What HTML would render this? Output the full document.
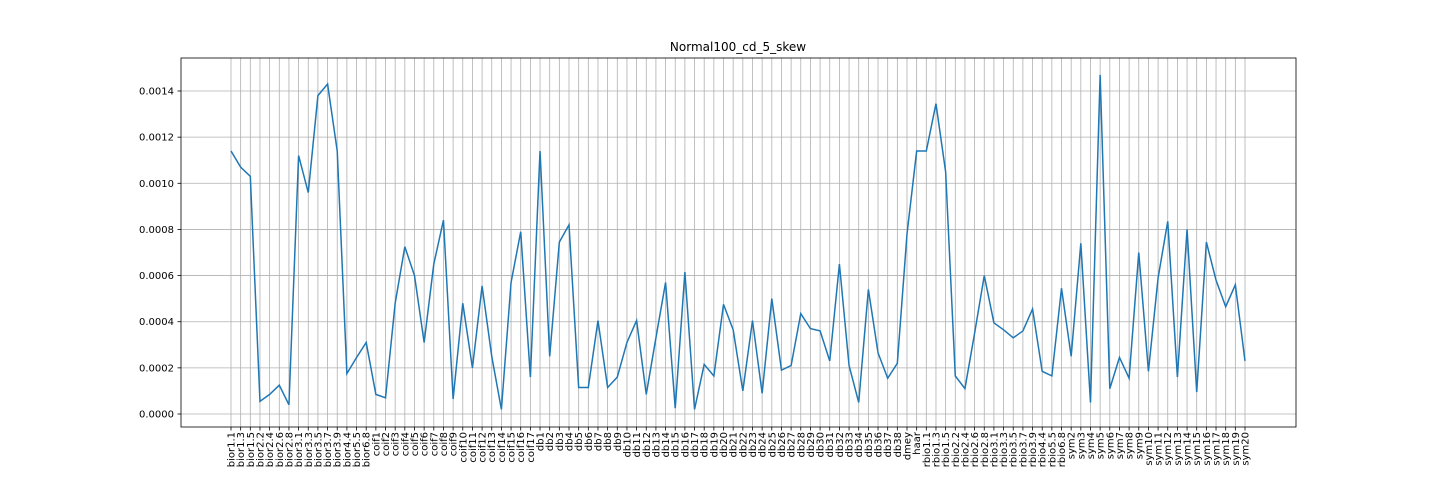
<!DOCTYPE html>
<html><head><meta charset="utf-8"><style>
body{margin:0;background:#fff;}
svg{display:block;font-family:"DejaVu Sans","Liberation Sans",sans-serif;}
</style></head><body>
<svg id="chart" width="1440" height="480" xmlns="http://www.w3.org/2000/svg">
<rect width="1440" height="480" fill="#fff"/>
<text x="738" y="51" text-anchor="middle" font-size="12">Normal100_cd_5_skew</text>
<g id="grid"></g><g id="xt"></g><g id="yt"></g>
<path id="line" fill="none" stroke="#1f77b4" stroke-width="1.5"/>
<rect x="181" y="58" width="1115" height="369" fill="none" stroke="#000" stroke-width="0.8"/>
</svg>
<script>
const categories=["bior1.1","bior1.3","bior1.5","bior2.2","bior2.4","bior2.6","bior2.8","bior3.1","bior3.3","bior3.5","bior3.7","bior3.9","bior4.4","bior5.5","bior6.8","coif1","coif2","coif3","coif4","coif5","coif6","coif7","coif8","coif9","coif10","coif11","coif12","coif13","coif14","coif15","coif16","coif17","db1","db2","db3","db4","db5","db6","db7","db8","db9","db10","db11","db12","db13","db14","db15","db16","db17","db18","db19","db20","db21","db22","db23","db24","db25","db26","db27","db28","db29","db30","db31","db32","db33","db34","db35","db36","db37","db38","dmey","haar","rbio1.1","rbio1.3","rbio1.5","rbio2.2","rbio2.4","rbio2.6","rbio2.8","rbio3.1","rbio3.3","rbio3.5","rbio3.7","rbio3.9","rbio4.4","rbio5.5","rbio6.8","sym2","sym3","sym4","sym5","sym6","sym7","sym8","sym9","sym10","sym11","sym12","sym13","sym14","sym15","sym16","sym17","sym18","sym19","sym20"];
const values=[0.00114,0.00107,0.00103,0.000055,0.000085,0.000125,0.00004,0.00112,0.00096,0.00138,0.00143,0.00114,0.000175,0.000245,0.00031,0.000085,0.00007,0.00048,0.000725,0.0006,0.00031,0.00065,0.00084,0.000065,0.00048,0.0002,0.000555,0.00025,0.00002,0.00057,0.00079,0.00016,0.00114,0.00025,0.000745,0.00082,0.000115,0.000115,0.000405,0.000115,0.00016,0.00031,0.000405,0.000085,0.00033,0.00057,0.000025,0.000615,0.00002,0.000215,0.000165,0.000475,0.000365,0.0001,0.000405,0.00009,0.0005,0.00019,0.00021,0.000435,0.00037,0.00036,0.00023,0.00065,0.00021,0.00005,0.00054,0.000265,0.000155,0.00022,0.00078,0.00114,0.00114,0.001345,0.00105,0.000165,0.00011,0.00035,0.0006,0.000395,0.000365,0.00033,0.00036,0.000455,0.000185,0.000165,0.000545,0.00025,0.00074,0.00005,0.00147,0.00011,0.000245,0.000155,0.0007,0.000185,0.00059,0.000835,0.00016,0.0008,0.000095,0.000745,0.00058,0.000465,0.00056,0.00023];
const yTicks=[0,0.0002,0.0004,0.0006,0.0008,0.001,0.0012,0.0014];
const yLabels=["0.0000","0.0002","0.0004","0.0006","0.0008","0.0010","0.0012","0.0014"];
const NS="http://www.w3.org/2000/svg";
const x0=231,x1=1245;
function xs(i){return x0+(x1-x0)*i/(categories.length-1);}
function ys(v){return 414-v/0.0014*(414-91);}
function mk(t,a,p){const e=document.createElementNS(NS,t);for(const k in a)e.setAttribute(k,a[k]);p.appendChild(e);return e;}
const grid=document.getElementById('grid'),xt=document.getElementById('xt'),yt=document.getElementById('yt');
categories.forEach((c,i)=>{
  const x=xs(i);
  const g=mk('line',{x1:x,x2:x,y1:58,y2:427,stroke:'#b0b0b0','stroke-width':0.8},grid);
  
  
  mk('line',{x1:x,x2:x,y1:427,y2:430.5,stroke:'#000','stroke-width':0.8},xt);
  const t=mk('text',{x:0,y:0,'font-size':10,'text-anchor':'end',transform:`translate(${x+3.5},${432}) rotate(-90)`},xt);
  t.textContent=c;
  
  
});
yTicks.forEach((v,i)=>{
  const y=ys(v);
  const g=mk('line',{x1:181,x2:1296,y1:y,y2:y,stroke:'#b0b0b0','stroke-width':0.8},grid);
  
  
  mk('line',{x1:177.5,x2:181,y1:y,y2:y,stroke:'#000','stroke-width':0.8},yt);
  const t=mk('text',{x:174,y:y+3.5,'font-size':10,'text-anchor':'end'},yt);
  t.textContent=yLabels[i];
  
  
});
document.getElementById('line').setAttribute('d',values.map((v,i)=>(i?'L':'M')+xs(i).toFixed(2)+','+ys(v).toFixed(2)).join(''));
</script>
</body></html>
